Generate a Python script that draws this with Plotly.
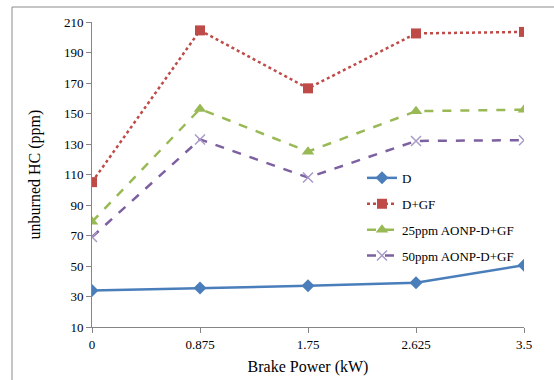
import plotly.graph_objects as go

x_vals = [0, 0.875, 1.75, 2.625, 3.5]
x_labels = ["0", "0.875", "1.75", "2.625", "3.5"]
d = [34, 35.5, 37, 39, 50.5]
d_gf = [105, 204.5, 166.5, 202.5, 203.5]
aonp25 = [79, 153, 125, 151.5, 152.5]
aonp50 = [69, 133, 108, 132, 132.5]
y_ticks = list(range(10, 211, 20))

font = "Liberation Serif, Times New Roman, serif"

fig = go.Figure()
fig.add_trace(go.Scatter(x=x_vals, y=d, name="D", mode="lines+markers", legendgroup="a",
                         line=dict(color="#4A7EBB", width=2.5),
                         marker=dict(symbol="diamond", size=10, color="#4A7EBB")))
fig.add_trace(go.Scatter(x=x_vals, y=d_gf, name="D+GF", mode="lines+markers", legendgroup="b",
                         line=dict(color="#BE4B48", width=2.5, dash="dot"),
                         marker=dict(symbol="square", size=10, color="#BE4B48")))
fig.add_trace(go.Scatter(x=x_vals, y=aonp25, name="25ppm AONP-D+GF", mode="lines+markers", legendgroup="c",
                         line=dict(color="#98B954", width=2.5, dash="dash"),
                         marker=dict(symbol="triangle-up", size=11, color="#98B954")))
fig.add_trace(go.Scatter(x=x_vals, y=aonp50, name="50ppm AONP-D+GF", mode="lines+markers", legendgroup="d",
                         line=dict(color="#7D60A0", width=2.5, dash="dash"),
                         marker=dict(symbol="x-thin-open", size=10,
                                     line=dict(color="#A99BC8", width=1.5), color="#A99BC8")))

fig.update_layout(
    width=554, height=380,
    margin=dict(l=92, r=30, t=22, b=53),
    paper_bgcolor="white", plot_bgcolor="white",
    font=dict(family=font, size=13, color="black"),
    showlegend=True,
    legend=dict(x=0.625, y=0.538, xanchor="left", yanchor="top",
                font=dict(family=font, size=13), bgcolor="rgba(0,0,0,0)",
                tracegroupgap=6, itemwidth=30),
    xaxis=dict(range=[0, 3.5], tickvals=x_vals, ticktext=x_labels,
               showline=True, linecolor="#868686", linewidth=1,
               ticks="outside", ticklen=5, tickcolor="#868686",
               showgrid=False, zeroline=False,
               title=dict(text="Brake Power (kW)", font=dict(family=font, size=16), standoff=10)),
    yaxis=dict(range=[10, 210], tickvals=y_ticks,
               showline=True, linecolor="#868686", linewidth=1,
               ticks="outside", ticklen=5, tickcolor="#868686",
               showgrid=False, zeroline=False,
               title=dict(text="unburned HC (ppm)", font=dict(family=font, size=16), standoff=19)),
)
fig.update_xaxes(automargin=False)
fig.update_yaxes(automargin=False)

# outer chart border (top and left visible)
fig.add_shape(type="line", xref="paper", yref="paper",
              x0=(12 - 92) / 432, x1=(560 - 92) / 432, y0=1 + 15 / 305, y1=1 + 15 / 305,
              line=dict(color="#8C8C8C", width=1))
fig.add_shape(type="line", xref="paper", yref="paper",
              x0=(12 - 92) / 432, x1=(12 - 92) / 432, y0=1 + 15 / 305, y1=-60 / 305,
              line=dict(color="#8C8C8C", width=1))

fig.write_html("out.html", config={"displayModeBar": False},
               post_script="document.body.style.margin='0';document.body.style.overflow='hidden';")
